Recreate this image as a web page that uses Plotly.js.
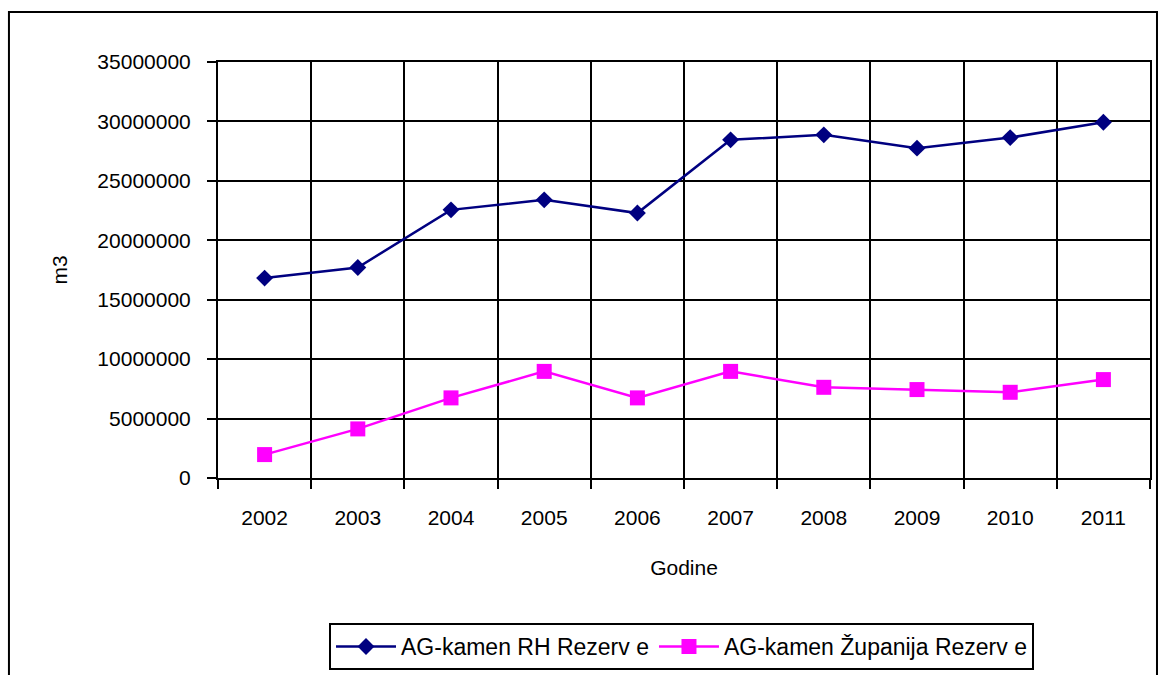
<!DOCTYPE html>
<html>
<head>
<meta charset="utf-8">
<script src="https://cdn.plot.ly/plotly-3.0.1.min.js"></script>
<style>html,body{margin:0;padding:0;background:#fff;}#chart{width:1161px;height:675px;}</style>
</head>
<body>
<div id="chart"></div>
<script>
const years = ["2002","2003","2004","2005","2006","2007","2008","2009","2010","2011"];
const rhRezerve = [16820000,17710000,22560000,23400000,22290000,28450000,28870000,27750000,28640000,29930000];
const zupanijaRezerve = [1970000,4130000,6740000,8970000,6740000,8970000,7630000,7440000,7210000,8280000];
const seriesNames = ["AG-kamen RH Rezerv e","AG-kamen Županija Rezerv e"];
const yTicks = [0,5000000,10000000,15000000,20000000,25000000,30000000,35000000];

const FONT = "Arial, 'Liberation Sans', sans-serif";

const traces = [
  {x: years, y: rhRezerve, name: seriesNames[0], type: "scatter", mode: "lines+markers",
   line: {color: "#000080", width: 2.5}, marker: {symbol: "diamond", size: 13, color: "#000080"}},
  {x: years, y: zupanijaRezerve, name: seriesNames[1], type: "scatter", mode: "lines+markers",
   line: {color: "#FF00FF", width: 2.5}, marker: {symbol: "square", size: 15, color: "#FF00FF"}}
];

const layout = {
  width: 1161, height: 675,
  margin: {l: 218, r: 11, t: 62, b: 196.5},
  paper_bgcolor: "#ffffff", plot_bgcolor: "#ffffff",
  font: {family: FONT, size: 21, color: "#000"},
  showlegend: true,
  xaxis: {
    type: "category", tickson: "boundaries", range: [-0.5, 9.5],
    showgrid: true, gridcolor: "#000", gridwidth: 2,
    showline: true, linecolor: "#000", linewidth: 2, mirror: true,
    ticks: "outside", ticklen: 9, tickwidth: 2, tickcolor: "#000",
    ticklabelstandoff: 20,
    tickfont: {family: FONT, size: 21},
    title: {text: "Godine", font: {family: FONT, size: 21}, standoff: 32},
    fixedrange: true
  },
  yaxis: {
    range: [0, 35000000], tickvals: yTicks, ticktext: yTicks.map(String),
    showgrid: true, gridcolor: "#000", gridwidth: 2, zeroline: false,
    showline: true, linecolor: "#000", linewidth: 2, mirror: true,
    ticks: "outside", ticklen: 9, tickwidth: 2, tickcolor: "#000",
    ticklabelstandoff: 12,
    tickfont: {family: FONT, size: 21},
    title: {text: "m3", font: {family: FONT, size: 21}, standoff: 24},
    fixedrange: true
  },
  legend: {
    orientation: "h", xref: "container", yref: "container",
    x: 0.587, xanchor: "center", y: 0.077, yanchor: "top",
    bordercolor: "#000", borderwidth: 2, bgcolor: "#fff",
    font: {family: FONT, size: 23}, itemwidth: 60, traceorder: "normal"
  },
  shapes: [
    {type: "rect", xref: "paper", yref: "paper", x0: -0.2243, x1: 1.0075, y0: -0.49, y1: 1.12,
     line: {color: "#000", width: 2}, fillcolor: "rgba(0,0,0,0)", layer: "below"}
  ]
};

Plotly.newPlot("chart", traces, layout, {displayModeBar: false, staticPlot: true});
</script>
</body>
</html>
